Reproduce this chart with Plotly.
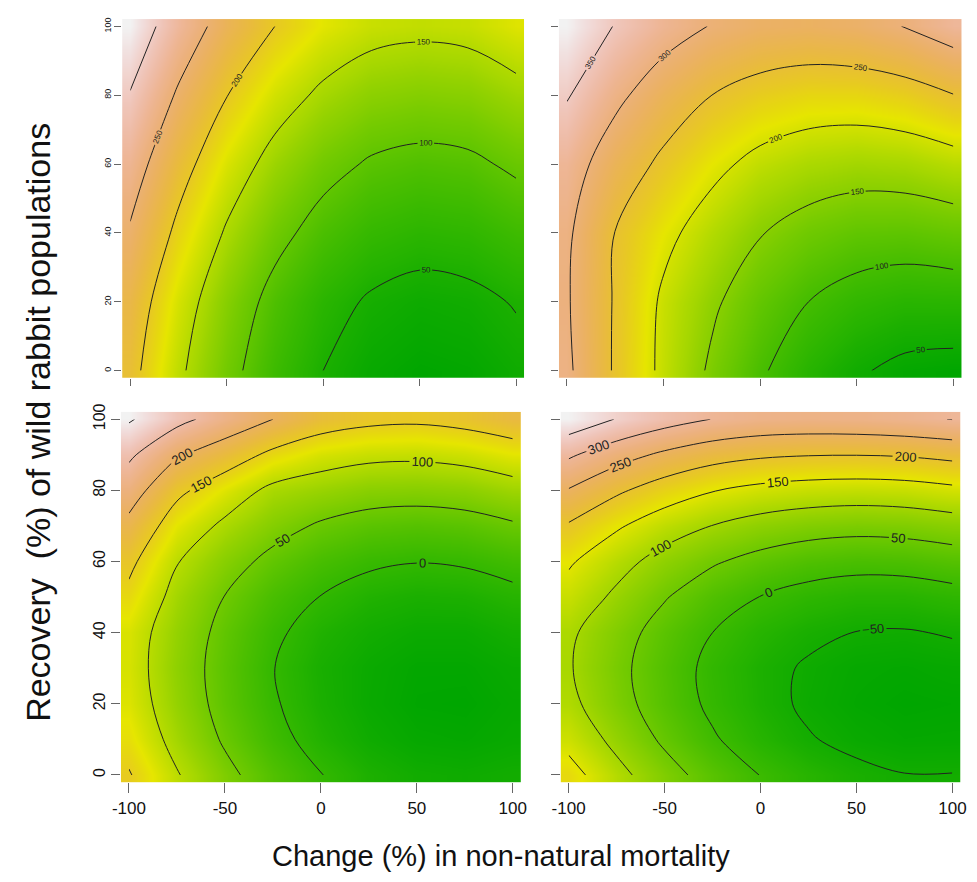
import colorsys
import plotly.graph_objects as go

# ---------------- data ----------------
x_change = [-100, -75, -50, -25, 0, 25, 50, 75, 100]          # % change in non-natural mortality
y_recovery_top = [0, 20, 40, 60, 80, 100]                      # % recovery (top panels)
y_recovery_bottom = [0, 10, 20, 30, 40, 50, 60, 70, 80, 90, 100]  # % recovery (bottom panels)

# rows follow the y list of the panel, columns follow x_change
z_top_left = [
    [212, 157, 112, 76, 50, 34, 27, 30, 40],
    [224, 169, 124, 88, 62, 46, 39, 42, 52],
    [246, 191, 146, 111, 86, 70, 63, 66, 77],
    [270, 216, 171, 137, 112, 96, 90, 93, 106],
    [298, 245, 201, 167, 143, 128, 123, 126, 139],
    [328, 276, 233, 200, 176, 162, 158, 161, 174],
]
z_top_right = [
    [308, 245, 190, 143, 105, 75, 54, 41, 37],
    [304, 246, 193, 157, 124, 100, 84, 76, 77],
    [307, 249, 211, 180, 152, 133, 122, 120, 126],
    [321, 276, 241, 211, 188, 175, 169, 172, 183],
    [353, 310, 276, 250, 233, 224, 224, 232, 249],
    [385, 348, 319, 298, 286, 283, 288, 301, 323],
]
z_bottom_left = [
    [153, 103, 61, 27, 1, -19, -30, -33, -29],
    [135, 86, 45, 12, -14, -32, -42, -44, -39],
    [123, 76, 36, 4, -21, -38, -47, -48, -42],
    [119, 72, 34, 1, -23, -37, -45, -45, -38],
    [121, 76, 38, 7, -16, -29, -36, -36, -27],
    [140, 86, 49, 20, -1, -15, -21, -19, -10],
    [160, 102, 67, 39, 19, 6, 1, 4, 14],
    [188, 127, 92, 65, 45, 34, 30, 34, 45],
    [222, 160, 124, 90, 79, 68, 66, 70, 83],
    [258, 205, 175, 140, 119, 110, 108, 114, 127],
    [305, 263, 230, 200, 172, 160, 157, 164, 178],
]
z_bottom_right = [
    [169, 115, 69, 30, -1, -24, -40, -49, -49],
    [135, 87, 42, 5, -25, -47, -61, -68, -67],
    [112, 67, 27, -9, -36, -57, -69, -74, -72],
    [104, 62, 24, -12, -37, -55, -66, -69, -65],
    [108, 69, 32, 0, -25, -41, -51, -53, -47],
    [131, 91, 53, 22, -1, -16, -24, -24, -16],
    [156, 117, 82, 55, 35, 21, 15, 17, 26],
    [195, 156, 123, 99, 81, 70, 65, 68, 77],
    [247, 208, 176, 152, 137, 129, 126, 129, 139],
    [307, 270, 241, 219, 207, 202, 201, 204, 213],
    [383, 348, 320, 299, 287, 284, 286, 292, 301],
]

levels_top_left = (50, 300)
levels_top_right = (50, 350)
levels_bottom_left = (0, 300)
levels_bottom_right = (-50, 350)
level_step = 50

x_tick_vals = [-100, -50, 0, 50, 100]
y_tick_vals = [0, 20, 40, 60, 80, 100]

x_title = "Change (%) in non-natural mortality"
y_title = "Recovery  (%) of wild rabbit populations"

# ---------------- style ----------------
def terrain_colorscale(n=61):
    stops = []
    for i in range(n):
        t = i / (n - 1)
        if t <= 0.5:
            u = t / 0.5
            h = 1/3 + (1/6 - 1/3) * u
            s = 1.0
            v = 0.65 + 0.25 * u
        else:
            u = (t - 0.5) / 0.5
            h = (1/6) * (1 - u)
            s = 1.0 - u
            v = 0.90 + 0.05 * u
        r, g, b = colorsys.hsv_to_rgb(h, s, v)
        stops.append([t, f"rgb({round(r*255)},{round(g*255)},{round(b*255)})"])
    return stops

terrain = terrain_colorscale()
FONT = "Liberation Sans, Arial, Helvetica, sans-serif"
W, H = 961, 866   # page adds an 8px body margin

panels = [
    dict(z=z_top_left, y=y_recovery_top, lv=levels_top_left, xa="x", ya="y", lab=8,
         xpx=(106.8, 515.2), ypx=(3.1, 365.2)),
    dict(z=z_top_right, y=y_recovery_top, lv=levels_top_right, xa="x2", ya="y2", lab=8,
         xpx=(550.5, 959.5), ypx=(3.1, 365.2)),
    dict(z=z_bottom_left, y=y_recovery_bottom, lv=levels_bottom_left, xa="x3", ya="y3", lab=13,
         xpx=(105.6, 511.8), ypx=(399.5, 773.5)),
    dict(z=z_bottom_right, y=y_recovery_bottom, lv=levels_bottom_right, xa="x4", ya="y4", lab=13,
         xpx=(552.2, 958.4), ypx=(399.5, 773.5)),
]

fig = go.Figure()
for p in panels:
    fig.add_trace(go.Heatmap(
        x=x_change, y=p["y"], z=p["z"], colorscale=terrain,
        zsmooth="best", showscale=False, hoverinfo="skip",
        xaxis=p["xa"], yaxis=p["ya"]))
    fig.add_trace(go.Contour(
        x=x_change, y=p["y"], z=p["z"], showscale=False,
        autocontour=False, hoverinfo="skip",
        contours=dict(start=p["lv"][0], end=p["lv"][1], size=level_step,
                      coloring="none", showlabels=True,
                      labelfont=dict(size=p["lab"], color="#222", family=FONT)),
        line=dict(color="#222222", width=1, smoothing=1.0),
        xaxis=p["xa"], yaxis=p["ya"]))

layout = dict(width=W, height=H, margin=dict(l=0, r=0, t=0, b=0),
              paper_bgcolor="white", plot_bgcolor="white", showlegend=False)

for i, p in enumerate(panels):
    sfx = "" if i == 0 else str(i + 1)
    bottom = i >= 2
    left = i % 2 == 0
    layout["xaxis" + sfx] = dict(
        domain=[p["xpx"][0] / W, p["xpx"][1] / W],
        range=[-104.17, 104.17], anchor="y" + sfx,
        tickvals=x_tick_vals, ticktext=[str(v) for v in x_tick_vals],
        showticklabels=bottom, ticks="outside",
        ticklen=10 if bottom else 7, tickcolor="#666", tickwidth=1,
        tickfont=dict(size=17, color="#111", family=FONT),
        showgrid=False, zeroline=False, showline=False, fixedrange=True)
    layout["yaxis" + sfx] = dict(
        domain=[1 - p["ypx"][1] / H, 1 - p["ypx"][0] / H],
        range=[-2.08, 102.08], anchor="x" + sfx,
        tickvals=y_tick_vals, ticktext=[str(v) for v in y_tick_vals],
        showticklabels=left, ticks="outside", tickangle=-90,
        ticklen=9 if bottom else 7, tickcolor="#666", tickwidth=1,
        tickfont=dict(size=16 if bottom else 9, color="#111", family=FONT),
        showgrid=False, zeroline=False, showline=False, fixedrange=True)

layout["annotations"] = [
    dict(text=x_title, x=492 / W, y=0, xref="paper", yref="paper",
         showarrow=False, xanchor="center", yanchor="bottom",
         font=dict(size=29, color="#111", family=FONT)),
    dict(text=y_title, x=22 / W, y=1 - 410 / H, xref="paper", yref="paper",
         showarrow=False, xanchor="center", yanchor="middle", textangle=-90,
         font=dict(size=34, color="#111", family=FONT)),
]

fig.update_layout(**layout)
fig.write_html("out.html")
